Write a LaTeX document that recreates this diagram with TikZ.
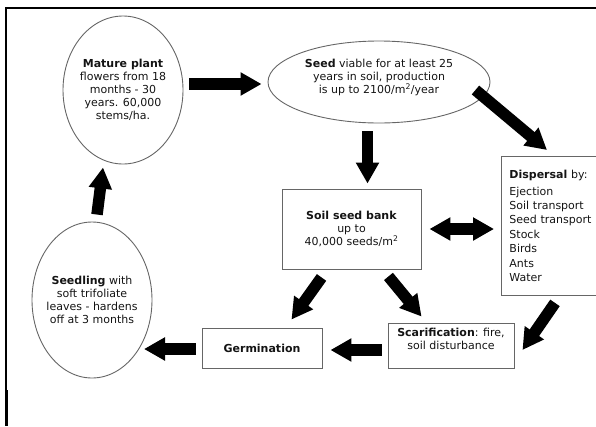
\documentclass[tikz,border=0pt]{standalone}
\usepackage{fontspec}
\setmainfont{DejaVu Sans}
\usetikzlibrary{shapes.geometric,arrows.meta,calc}
\begin{document}
\begin{tikzpicture}[x=1pt,y=-1pt,
  txt/.style={font=\fontsize{11}{13}\selectfont, text=black!92},
  ell/.style={ellipse, draw=black!60, line width=0.9pt, inner sep=-14pt, align=center, txt},
  box/.style={rectangle, draw=black!60, line width=0.9pt, inner sep=0pt, align=center, txt},
  blk/.style={line width=11.5pt, -{Triangle[length=21pt,width=22pt]}},
  dblk/.style={line width=11.5pt, {Triangle[length=21pt,width=22pt]}-{Triangle[length=21pt,width=22pt]}},
]
\useasboundingbox (0,0) rectangle (596,426);
\clip (0,0) rectangle (596,426);
% frame
\draw[line width=1.4pt] (596,8) -| (6,426);
\draw[line width=2.6pt] (6.5,390) -- (6.5,426);
% nodes
\node[ell, minimum width=120pt, minimum height=148pt] (mature) at (123,90)
  {\textbf{Mature plant}\\flowers from 18\\months - 30\\years. 60,000\\stems/ha.};
\node[ell, minimum width=222pt, minimum height=82pt, text depth=11pt] (seed) at (379,82)
  {\textbf{Seed} viable for at least 25\\years in soil, production\\is up to 2100/m\textsuperscript{2}/year};
\node[box, minimum width=139pt, minimum height=80pt] (ssb) at (351.5,229)
  {\textbf{Soil seed bank}\\up to\\40,000 seeds/m\textsuperscript{2}};
\node[box, anchor=north west, minimum height=139pt, text width=92pt, inner xsep=8pt, align=left, font=\fontsize{11}{14.4}\selectfont] (disp) at (501,156)
  {\textbf{Dispersal} by:\\[2pt]Ejection\\Soil transport\\Seed transport\\Stock\\Birds\\Ants\\Water};
\node[box, minimum width=126pt, minimum height=45pt, text depth=13pt] (scar) at (451,345.5)
  {\textbf{Scarification}: fire,\\soil disturbance};
\node[box, minimum width=120pt, minimum height=40pt] (germ) at (262,348)
  {\textbf{Germination}};
\node[ell, minimum width=120pt, minimum height=156pt] (seedling) at (92,300)
  {\textbf{Seedling} with\\soft trifoliate\\leaves - hardens\\off at 3 months};
% arrows
\draw[blk] ($(mature.east)+(6,-6)$) -- ($(seed.west)+(-6,2)$);
\draw[blk] ($(seed.south)+(-11.5,8)$) -- ($(ssb.north)+(16,-5)$);
\draw[blk] ($(seed.east)+(-15,8)$) -- ($(disp.north west)+(46,-6)$);
\draw[dblk] ($(ssb.east)+(8,0)$) -- ($(ssb.east -| disp.west)+(-7,0)$);
\draw[blk] ($(ssb.south west)+(40,8)$) -- ($(germ.north east)+(-31,-8)$);
\draw[blk] ($(ssb.south east)+(-33,7)$) -- ($(scar.north west)+(34,-6)$);
\draw[blk] ($(disp.south west)+(54,7)$) -- ($(scar.east)+(8,4.5)$);
\draw[blk] ($(scar.west)+(-6,4.5)$) -- ($(germ.east)+(8,2)$);
\draw[blk] ($(germ.west)+(-6,1)$) -- ($(seedling.center)+(52,49)$);
\draw[blk] ($(seedling.north)+(5,-7)$) -- ($(mature.south)+(-20,3)$);
\end{tikzpicture}
\end{document}
